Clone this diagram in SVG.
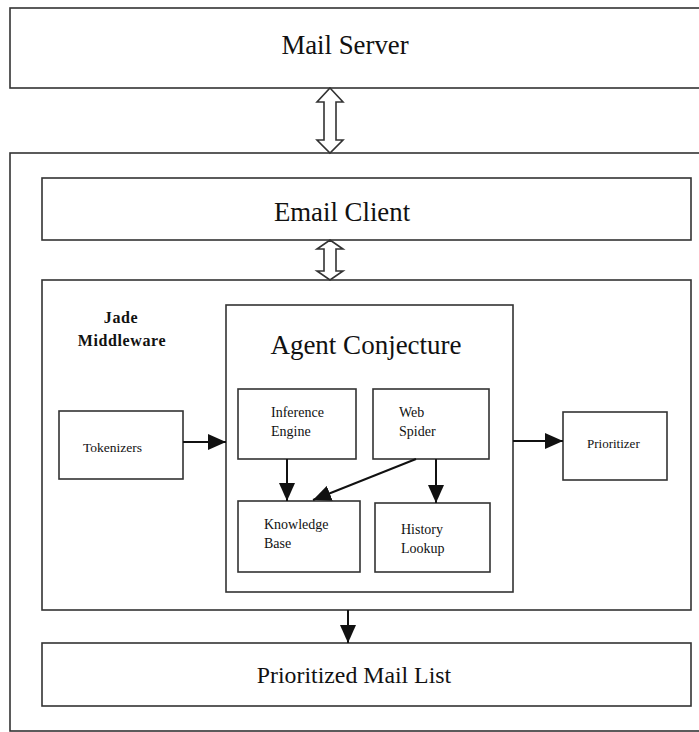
<svg xmlns="http://www.w3.org/2000/svg" width="699" height="732" viewBox="0 0 699 732">
<defs>
<style>
.box{fill:none;stroke:#333;stroke-width:1.6}
.big{font-family:"Liberation Serif","Times New Roman",serif;font-size:26.8px;fill:#111;text-anchor:middle}
.sm{font-family:"Liberation Serif","Times New Roman",serif;font-size:14px;fill:#111}
.bold{font-family:"Liberation Serif","Times New Roman",serif;font-size:16px;font-weight:bold;fill:#111;text-anchor:middle;letter-spacing:0.6px}
.ln{stroke:#111;stroke-width:2;fill:none}
.blk{fill:#fff;stroke:#333;stroke-width:1.6;stroke-linejoin:miter}
</style>
<marker id="ah" viewBox="0 0 18 16" refX="18" refY="8" markerWidth="18" markerHeight="16" markerUnits="userSpaceOnUse" orient="auto">
<path d="M0,0 L18,8 L0,16 Z" fill="#111"/>
</marker>
</defs>
<rect width="699" height="732" fill="#fff"/>
<g id="mail-server">
<rect class="box" x="10" y="8" width="695" height="80"/>
<text class="big" x="345" y="54">Mail Server</text>
</g>
<g id="outer">
<rect class="box" x="10" y="153" width="695" height="578"/>
</g>
<g id="email-client">
<rect class="box" x="42" y="178" width="649" height="62"/>
<text class="big" x="342" y="221">Email Client</text>
</g>
<g id="jade-middleware">
<rect class="box" x="42" y="280" width="649" height="330"/>
<text class="bold" x="121" y="323">Jade</text>
<text class="bold" x="122" y="346">Middleware</text>
</g>
<g id="agent-conjecture">
<rect class="box" x="226" y="305" width="287" height="287"/>
<text class="big" x="366" y="354" style="font-size:27px">Agent Conjecture</text>
</g>
<g id="tokenizers">
<rect class="box" x="59" y="411" width="124" height="68"/>
<text class="sm" x="83" y="452" style="font-size:13.5px">Tokenizers</text>
</g>
<g id="prioritizer">
<rect class="box" x="563" y="412" width="104" height="68"/>
<text class="sm" x="587" y="448" style="font-size:13px">Prioritizer</text>
</g>
<g id="inference-engine">
<rect class="box" x="238" y="389" width="118" height="70"/>
<text class="sm" x="271" y="417">Inference</text>
<text class="sm" x="271" y="436">Engine</text>
</g>
<g id="web-spider">
<rect class="box" x="373" y="389" width="116" height="70"/>
<text class="sm" x="399" y="417">Web</text>
<text class="sm" x="399" y="436">Spider</text>
</g>
<g id="knowledge-base">
<rect class="box" x="238" y="501" width="122" height="71"/>
<text class="sm" x="264" y="529">Knowledge</text>
<text class="sm" x="264" y="548">Base</text>
</g>
<g id="history-lookup">
<rect class="box" x="375" y="503" width="115" height="69"/>
<text class="sm" x="401" y="534">History</text>
<text class="sm" x="401" y="553">Lookup</text>
</g>
<g id="prioritized-mail-list">
<rect class="box" x="42" y="643" width="649" height="63"/>
<text class="big" x="354" y="683" style="font-size:23.8px">Prioritized Mail List</text>
</g>
<g id="connectors">
<path class="blk" d="M330,88 L343,102 L336,102 L336,140 L343,140 L330,153 L317,140 L324,140 L324,102 L317,102 Z"/>
<path class="blk" d="M330,240 L343,249 L336,249 L336,271 L343,271 L330,280 L317,271 L324,271 L324,249 L317,249 Z"/>
<line class="ln" x1="183" y1="442" x2="226" y2="442" marker-end="url(#ah)"/>
<line class="ln" x1="513" y1="441" x2="563" y2="441" marker-end="url(#ah)"/>
<line class="ln" x1="287" y1="459" x2="287" y2="501" marker-end="url(#ah)"/>
<line class="ln" x1="436" y1="459" x2="436" y2="503" marker-end="url(#ah)"/>
<line class="ln" x1="416" y1="459" x2="313" y2="500" marker-end="url(#ah)"/>
<line class="ln" x1="348" y1="610" x2="348" y2="643" marker-end="url(#ah)"/>
</g>
</svg>
